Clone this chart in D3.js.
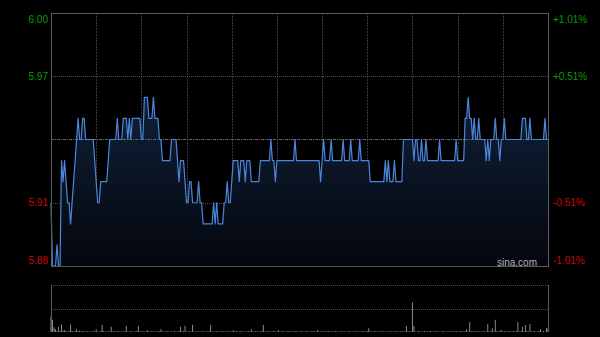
<!DOCTYPE html>
<html>
<head>
<meta charset="utf-8">
<script src="https://cdn.jsdelivr.net/npm/d3@7"></script>
<style>
  html, body { margin: 0; padding: 0; background: #000; }
  svg { display: block; }
</style>
</head>
<body>
<script>
// intraday minute prices (HK session, 331 minutes)
let prices = [
  5.91,5.88,5.88,5.88,5.89,5.88,5.88,5.93,5.92,5.93,
  5.92,5.91,5.91,5.90,5.91,5.92,5.93,5.94,5.95,5.94,
  5.94,5.95,5.95,5.94,5.94,5.94,5.94,5.94,5.94,5.93,
  5.92,5.91,5.91,5.92,5.92,5.92,5.92,5.92,5.93,5.94,
  5.94,5.94,5.94,5.94,5.95,5.94,5.94,5.94,5.95,5.95,
  5.95,5.94,5.95,5.94,5.95,5.95,5.95,5.95,5.95,5.95,
  5.94,5.94,5.96,5.96,5.96,5.95,5.95,5.95,5.96,5.95,
  5.95,5.95,5.94,5.94,5.93,5.93,5.93,5.93,5.93,5.93,
  5.94,5.94,5.94,5.94,5.93,5.92,5.93,5.93,5.93,5.92,
  5.91,5.91,5.92,5.92,5.91,5.91,5.91,5.91,5.92,5.91,
  5.91,5.90,5.90,5.90,5.90,5.90,5.90,5.90,5.91,5.90,
  5.91,5.90,5.90,5.90,5.90,5.91,5.91,5.92,5.91,5.91,
  5.92,5.93,5.93,5.93,5.93,5.92,5.93,5.93,5.93,5.92,
  5.93,5.93,5.93,5.92,5.92,5.92,5.92,5.92,5.92,5.93,
  5.93,5.93,5.93,5.93,5.93,5.93,5.94,5.93,5.93,5.92,
  5.93,5.93,5.93,5.93,5.93,5.93,5.93,5.93,5.93,5.93,
  5.93,5.93,5.94,5.93,5.93,5.93,5.93,5.93,5.93,5.93,
  5.93,5.93,5.93,5.93,5.93,5.93,5.93,5.93,5.93,5.92,
  5.93,5.94,5.93,5.93,5.93,5.93,5.94,5.93,5.93,5.93,
  5.93,5.93,5.93,5.93,5.94,5.93,5.93,5.93,5.93,5.94,
  5.93,5.93,5.93,5.93,5.93,5.94,5.93,5.93,5.93,5.93,
  5.93,5.93,5.92,5.92,5.92,5.92,5.92,5.92,5.92,5.92,
  5.92,5.92,5.93,5.92,5.93,5.92,5.92,5.92,5.93,5.92,
  5.92,5.92,5.92,5.92,5.94,5.94,5.94,5.94,5.94,5.94,
  5.94,5.93,5.94,5.94,5.93,5.93,5.94,5.93,5.93,5.94,
  5.93,5.93,5.93,5.93,5.93,5.93,5.93,5.93,5.94,5.93,
  5.93,5.93,5.93,5.93,5.93,5.93,5.93,5.93,5.93,5.94,
  5.93,5.93,5.93,5.93,5.93,5.95,5.95,5.96,5.95,5.95,
  5.94,5.95,5.94,5.94,5.95,5.94,5.94,5.94,5.94,5.93,
  5.94,5.93,5.94,5.94,5.94,5.95,5.94,5.94,5.93,5.94,
  5.94,5.95,5.94,5.94,5.94,5.94,5.94,5.94,5.94,5.94,
  5.94,5.94,5.94,5.95,5.95,5.95,5.94,5.94,5.95,5.94,
  5.94,5.94,5.94,5.94,5.94,5.94,5.94,5.94,5.95,5.94,
  5.94
];

// volume per minute (thousand shares)
let volumes = [
  33,26,10,6,2,11,2,16,3,4,
  2,1,2,16,2,1,2,6,2,3,
  1,2,1,1,2,1,1,1,2,1,
  6,1,1,2,15,2,1,1,2,1,
  11,1,2,1,1,2,1,1,1,2,
  13,1,1,2,1,1,1,2,13,1,
  1,2,1,1,4,1,1,2,1,1,
  1,1,2,6,1,1,1,2,1,1,
  1,1,2,1,1,2,11,1,2,13,
  1,1,2,1,15,1,1,2,1,1,
  1,2,1,1,1,2,15,1,1,1,
  2,1,1,1,2,1,1,1,2,1,
  1,4,1,2,1,1,2,1,1,1,
  1,2,1,6,1,1,2,1,1,1,
  2,15,1,1,2,1,1,1,2,1,
  1,4,1,1,2,1,1,1,2,1,
  1,1,2,1,1,1,2,1,1,1,
  2,1,1,1,2,1,1,4,1,1,
  2,1,1,1,2,1,1,1,1,2,
  1,1,1,2,1,1,1,1,2,1,
  1,1,2,1,1,1,1,2,1,1,
  2,8,1,1,1,2,1,1,1,1,
  2,1,1,1,1,2,1,1,1,2,
  1,1,1,2,1,1,13,1,2,1,
  63,13,1,1,2,1,1,1,2,1,
  1,1,2,1,1,1,2,1,1,1,
  2,1,1,1,1,2,1,1,1,2,
  1,1,2,1,1,2,6,1,21,2,
  1,2,1,1,2,1,1,2,1,1,
  17,1,2,8,1,26,2,1,2,4,
  1,2,1,1,2,1,1,2,1,2,
  21,1,2,11,1,15,2,1,17,1,
  1,2,1,1,2,6,1,2,1,8,
  8
];

let prevClose = 5.94;
let priceTicks = [6.00, 5.97, 5.94, 5.91, 5.88];
let priceLabels = ["6.00", "5.97", "", "5.91", "5.88"];
let pctLabels = ["+1.01%", "+0.51%", "", "-0.51%", "-1.01%"];
let timeTicks = [30, 60, 90, 120, 150, 180, 210, 240, 270, 300]; //every 30 minutes
let volMax = 100;

let svg = d3.select("body").append("svg")
  .attr("width", 600)
  .attr("height", 337);

let plotLeft = 51, plotRight = 548;
let plotTop = 13, plotBottom = 266;
let vTop = 285, vBottom = 332;

let x = d3.scaleLinear().domain([0, 330]).range([plotLeft, plotRight]);
let y = d3.scaleLinear().domain([5.88, 6.00]).range([plotBottom, plotTop]);
let yVol = d3.scaleLinear().domain([0, volMax]).range([vBottom, vTop]);

let font = "'Liberation Sans', Arial, sans-serif";

// gradient for area
let defs = svg.append("defs");
let grad = defs.append("linearGradient")
  .attr("id", "areaGrad")
  .attr("x1", 0).attr("y1", 0).attr("x2", 0).attr("y2", 1);
grad.append("stop").attr("offset", "0%").attr("stop-color", "#102038");
grad.append("stop").attr("offset", "100%").attr("stop-color", "#04070d");

// vertical grid
svg.append("g")
  .selectAll("line")
  .data(timeTicks)
  .enter().append("line")
    .attr("x1", d => Math.round(x(d)) + 0.5)
    .attr("x2", d => Math.round(x(d)) + 0.5)
    .attr("y1", plotTop)
    .attr("y2", plotBottom)
    .attr("stroke", "#3a3a3a")
    .attr("stroke-dasharray", "2,1");

// horizontal grid
svg.append("g")
  .selectAll("line")
  .data(priceTicks.filter(d => d < 6.00 && d > 5.88))
  .enter().append("line")
    .attr("x1", plotLeft)
    .attr("x2", plotRight)
    .attr("y1", d => Math.round(y(d)) + 0.5)
    .attr("y2", d => Math.round(y(d)) + 0.5)
    .attr("stroke", d => d === prevClose ? "#6a6a6a" : "#4a4a4a")
    .attr("stroke-dasharray", d => d === prevClose ? "3,1,1,1" : "1,1");

// area under price line
let area = d3.area()
  .x((d, i) => x(i))
  .y0(plotBottom)
  .y1(d => y(d));

svg.append("path")
  .datum(prices)
  .attr("fill", "url(#areaGrad)")
  .attr("d", area);

// redraw prev close line over area
svg.append("line")
  .attr("x1", plotLeft).attr("x2", plotRight)
  .attr("y1", Math.round(y(prevClose)) + 0.5)
  .attr("y2", Math.round(y(prevClose)) + 0.5)
  .attr("stroke", "#6a6a6a")
  .attr("stroke-dasharray", "3,1,1,1");

let line = d3.line()
  .x((d, i) => x(i))
  .y(d => y(d));

svg.append("path")
  .datum(prices)
  .attr("fill", "none")
  .attr("stroke", "#4b86dc")
  .attr("stroke-width", 1.2)
  .attr("stroke-linejoin", "round")
  .attr("d", line);

// chart frame
svg.append("rect")
  .attr("x", plotLeft + 0.5)
  .attr("y", plotTop + 0.5)
  .attr("width", plotRight - plotLeft)
  .attr("height", plotBottom - plotTop)
  .attr("fill", "none")
  .attr("stroke", "#5a5a5a");

function labelY(d, i) {
  if (i === 0) return y(d) + 6;
  if (i === priceTicks.length - 1) return y(d) - 6;
  return y(d);
}

// left price labels
svg.append("g")
  .selectAll("text")
  .data(priceTicks)
  .enter().append("text")
    .attr("x", 48)
    .attr("y", labelY)
    .attr("dy", "0.35em")
    .attr("text-anchor", "end")
    .attr("font-family", font)
    .attr("font-size", 10)
    .attr("fill", d => d > prevClose ? "#0a9a0a" : "#c80a0a")
    .text((d, i) => priceLabels[i]);

// right percent labels
svg.append("g")
  .selectAll("text")
  .data(priceTicks)
  .enter().append("text")
    .attr("x", 553)
    .attr("y", labelY)
    .attr("dy", "0.35em")
    .attr("font-family", font)
    .attr("font-size", 10)
    .attr("fill", d => d > prevClose ? "#0a9a0a" : "#c80a0a")
    .text((d, i) => pctLabels[i]);

// watermark
svg.append("text")
  .attr("x", 537)
  .attr("y", 262)
  .attr("dy", "0.35em")
  .attr("text-anchor", "end")
  .attr("font-family", font)
  .attr("font-size", 10)
  .attr("fill", "#b0b0b0")
  .text("sina.com");

// volume panel
svg.append("g")
  .selectAll("line")
  .data([volMax, volMax / 2])
  .enter().append("line")
    .attr("x1", plotLeft).attr("x2", plotRight)
    .attr("y1", d => Math.round(yVol(d)) + 0.5)
    .attr("y2", d => Math.round(yVol(d)) + 0.5)
    .attr("stroke", "#4a4a4a")
    .attr("stroke-dasharray", "1,1");

svg.append("g")
  .selectAll("rect")
  .data(volumes)
  .enter().append("rect")
    .attr("x", (d, i) => x(i) - 0.5)
    .attr("width", 1)
    .attr("y", d => yVol(d))
    .attr("height", d => vBottom - yVol(d))
    .attr("fill", "#8a8a8a");

svg.append("g")
  .selectAll("line")
  .data([plotLeft, plotRight])
  .enter().append("line")
    .attr("x1", d => d + 0.5).attr("x2", d => d + 0.5)
    .attr("y1", vTop).attr("y2", vBottom)
    .attr("stroke", "#5a5a5a");
</script>
</body>
</html>
